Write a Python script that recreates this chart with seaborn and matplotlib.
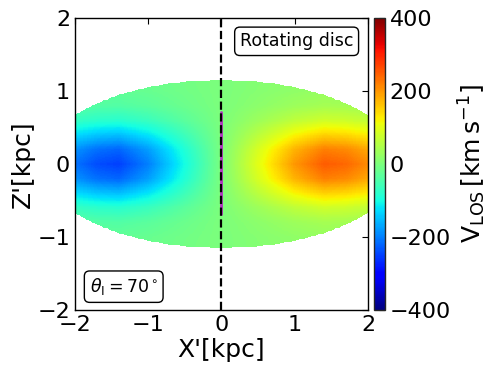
import numpy as np
import matplotlib
matplotlib.use("Agg")
import matplotlib.pyplot as plt
import seaborn as sns

# rotation curve along X' (kpc -> km/s) at Z'=0
x_knots = [0.0, 0.15, 0.4, 0.7, 1.0, 1.4, 1.7, 2.0]
v_knots = [0.0, 30.0, 80.0, 140.0, 200.0, 250.0, 240.0, 210.0]
# vertical fall-off of V_LOS with |Z'|
z_knots = [0.0, 0.2, 0.4, 0.6, 0.8, 1.0, 1.2]
f_knots = [1.0, 0.88, 0.6, 0.32, 0.16, 0.1, 0.08]
disc_radius = 2.45     # kpc, X' half width of projected disc
disc_height = 1.15     # kpc, Z' half height of projected disc
jet_extent = [-0.68, 0.71]
inclination = 70
vlim = [-400, 400]
ticks_xy = [-2, -1, 0, 1, 2]
ticks_cb = [-400, -200, 0, 200, 400]

sns.set_style("white")
plt.rcParams["font.family"] = ["DejaVu Sans"]
plt.rcParams["mathtext.fontset"] = "dejavusans"
for k in ["text.color", "axes.labelcolor", "xtick.color", "ytick.color"]:
    plt.rcParams[k] = "black"

fig = plt.figure(figsize=(4.96, 3.74), dpi=100)
ax = fig.add_axes([0.151, 0.171, 0.591, 0.781])
cax = fig.add_axes([0.754, 0.171, 0.022, 0.781])

xg = np.linspace(-2, 2, 400)
zg = np.linspace(-2, 2, 400)
X, Z = np.meshgrid(xg, zg)
vel = np.sign(X) * np.interp(np.abs(X), x_knots, v_knots) * np.interp(np.abs(Z), z_knots, f_knots)
inside = (X / disc_radius) ** 2 + (Z / disc_height) ** 2 <= 1
vel = np.ma.masked_where(~inside, vel)

mesh = ax.pcolormesh(X, Z, vel, cmap="jet", vmin=vlim[0], vmax=vlim[1], shading="auto")
ax.plot([0, 0], jet_extent, color="#b030c0", lw=2, zorder=3)
ax.axvline(0, color="black", ls="--", lw=1.6, zorder=4)

ax.set_xlim(-2, 2)
ax.set_ylim(-2, 2)
ax.set_xticks(ticks_xy)
ax.set_yticks(ticks_xy)
ax.tick_params(direction="in", labelsize=16, top=True, right=True, length=4)
for s in ax.spines.values():
    s.set_color("black")
    s.set_linewidth(1)
ax.set_xlabel("X'[kpc]", fontsize=18, labelpad=2)
ax.set_ylabel("Z'[kpc]", fontsize=18, labelpad=2)

box = dict(boxstyle="round,pad=0.3", fc="white", ec="black", lw=1)
ax.text(0.95, 0.92, "Rotating disc", transform=ax.transAxes, ha="right", va="center",
        fontsize=12.5, bbox=box)
ax.text(0.05, 0.08, r"$\theta_{\rm I} = %d^\circ$" % inclination, transform=ax.transAxes,
        ha="left", va="center", fontsize=12.5, bbox=box)

cb = fig.colorbar(mesh, cax=cax, ticks=ticks_cb)
cb.ax.tick_params(direction="in", labelsize=16, length=4)
cb.outline.set_linewidth(1)
cb.set_label(r"$\mathrm{V_{LOS}\,[km\,s^{-1}]}$", fontsize=18, labelpad=4)

fig.savefig("out.png", dpi=100)
